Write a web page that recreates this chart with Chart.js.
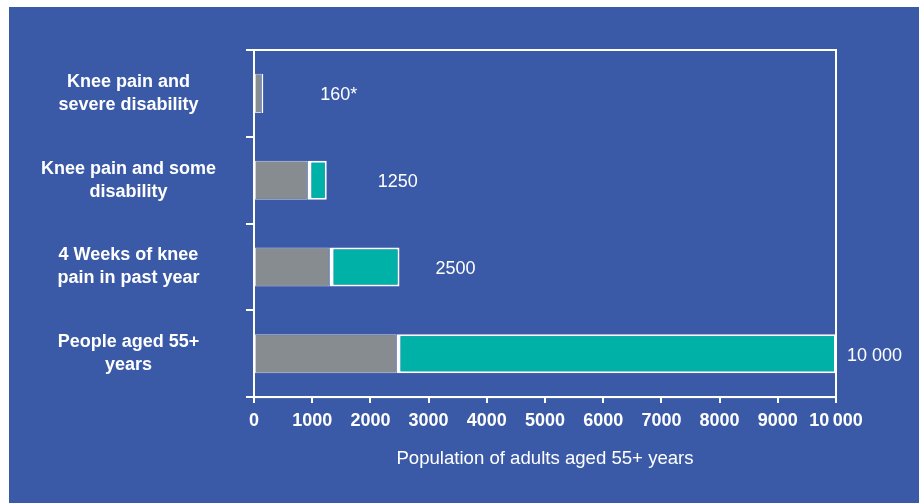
<!DOCTYPE html>
<html>
<head>
<meta charset="utf-8">
<script src="https://cdn.jsdelivr.net/npm/chart.js@4"></script>
<style>
  body { margin: 0; background: #fff; }
  #wrap { position: absolute; left: 9px; top: 7px; width: 910px; height: 496px; background: #3A5AA8; }
</style>
</head>
<body>
<div id="wrap"><canvas id="kneeChart"></canvas></div>
<script>
// Knee pain population, people aged 55+ (per 10 000)
const categories = [
  ['Knee pain and', 'severe disability'],
  ['Knee pain and some', 'disability'],
  ['4 Weeks of knee', 'pain in past year'],
  ['People aged 55+', 'years']
];
const greyPart = [130, 920, 1300, 2450];
const tealPart = [30, 330, 1200, 7550];
const valueLabels = ['160*', '1250', '2500', '10 000'];
const labelGap = [57, 51, 36, 11]; // px after the bar end

const FONT = "'Liberation Sans', Arial, sans-serif";

// white box round the plot area
const plotBox = {
  id: 'plotBox',
  afterDatasetsDraw(chart) {
    const { ctx, chartArea: a } = chart;
    ctx.save();
    ctx.strokeStyle = '#fff';
    ctx.lineWidth = 2;
    ctx.strokeRect(a.left, a.top, a.right - a.left, a.bottom - a.top);
    ctx.restore();
  }
};

// totals written to the right of each bar
const totals = {
  id: 'totals',
  afterDatasetsDraw(chart) {
    const { ctx } = chart;
    const x = chart.scales.x, y = chart.scales.y;
    ctx.save();
    ctx.fillStyle = '#fff';
    ctx.font = '18px ' + FONT;
    ctx.textAlign = 'left';
    ctx.textBaseline = 'middle';
    categories.forEach((c, i) => {
      const end = x.getPixelForValue(greyPart[i] + tealPart[i]);
      ctx.fillText(valueLabels[i], end + labelGap[i], y.getPixelForValue(i) + 2);
    });
    ctx.restore();
  }
};

new Chart(document.getElementById('kneeChart'), {
  type: 'bar',
  data: {
    labels: categories,
    datasets: [
      {
        data: greyPart,
        backgroundColor: '#878C91',
        borderColor: '#CDD1DA',
        borderWidth: 1,
        borderSkipped: false,
        barPercentage: 0.45,
        categoryPercentage: 1
      },
      {
        data: tealPart,
        backgroundColor: '#00B1A7',
        borderColor: '#fff',
        borderWidth: { left: 4, top: 2, right: 2, bottom: 2 },
        borderSkipped: false,
        barPercentage: 0.45,
        categoryPercentage: 1
      }
    ]
  },
  options: {
    indexAxis: 'y',
    responsive: true,
    maintainAspectRatio: false,
    animation: false,
    layout: { padding: { left: 0, right: 83, top: 43, bottom: 33 } },
    plugins: { legend: { display: false }, tooltip: { enabled: false } },
    scales: {
      x: {
        stacked: true,
        min: 0,
        max: 10000,
        ticks: {
          stepSize: 1000,
          color: '#fff',
          padding: 7,
          maxRotation: 0,
          font: { family: FONT, size: 18, weight: 'bold' },
          callback: v => v === 10000 ? '10\u2009000' : String(v)
        },
        grid: { drawOnChartArea: false, color: '#fff', lineWidth: 2, tickLength: 6 },
        border: { color: '#fff', width: 2 },
        title: {
          display: true,
          text: 'Population of adults aged 55+ years',
          color: '#fff',
          font: { family: FONT, size: 18.6 },
          padding: { top: 9, bottom: 0 }
        }
      },
      y: {
        stacked: true,
        afterFit(scale) {
          scale.width = 245;
          scale.paddingTop = 0;
          scale.paddingBottom = 0;
        },
        ticks: {
          color: '#fff',
          crossAlign: 'center',
          padding: 30,
          font: { family: FONT, size: 18, weight: 'bold', lineHeight: 1.28 }
        },
        grid: { drawOnChartArea: false, offset: true, color: '#fff', lineWidth: 2, tickLength: 8 },
        border: { color: '#fff', width: 2 }
      }
    }
  },
  plugins: [plotBox, totals]
});
</script>
</body>
</html>
